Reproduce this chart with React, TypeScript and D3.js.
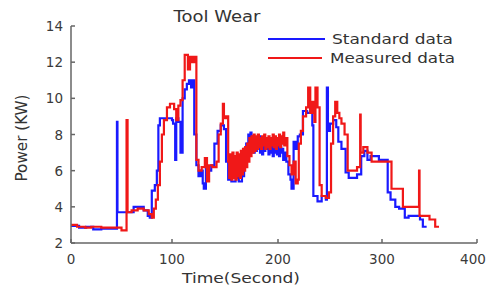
import * as d3 from "d3";

const W = 487;
const H = 289;

const standardTime = [
  0, 8, 15, 22, 30, 40, 45.5, 46, 57, 62, 72, 76, 78, 80, 83, 85, 86.5, 88, 92, 100,
  101, 103, 104, 106, 108, 110, 112, 114, 116, 118, 120, 121, 123, 125, 127, 129, 130,
  132, 134, 137, 140, 143, 146, 149, 151, 153, 156, 160, 163, 166, 168, 170, 172,
  173, 174, 175, 176, 177, 178, 179, 180, 181, 182, 183, 184, 185, 186, 187, 188, 189,
  190, 191, 192, 193, 194, 195, 196, 197, 198, 199, 200, 201, 202, 203, 204, 205, 206,
  208, 210, 212, 213, 215, 217, 219, 221, 224, 228, 231, 233, 234, 238, 242, 246, 247,
  248, 250, 253, 256, 258, 261, 265, 268, 272, 276, 280, 283, 286, 289, 297, 306, 309,
  314, 318, 324, 328, 332, 340, 343, 347,
];
const standardPower = [
  2.95, 2.85, 2.9, 2.75, 2.8, 2.8, 8.7, 3.7, 3.7, 4.0, 3.8, 3.5, 3.4, 4.9, 5.2, 6.0, 8.5, 8.9, 8.9, 8.8,
  8.6, 6.6, 8.9, 8.7, 7.0, 10.0, 10.5, 10.8, 11.0, 10.6, 11.0, 8.0, 6.3, 5.7, 6.0, 5.3, 5.0,
  6.1, 6.0, 6.3, 7.5, 8.2, 8.5, 8.3, 6.5, 5.5, 5.4, 5.6, 5.4, 5.7, 7.2, 7.5, 8.0,
  7.3, 8.1, 7.2, 7.9, 7.0, 7.8, 7.1, 7.7, 7.3, 7.9, 7.0, 7.6, 6.9, 7.5, 7.1, 7.8, 7.2,
  7.6, 6.9, 7.7, 7.0, 7.5, 6.8, 7.4, 7.0, 7.6, 6.9, 7.3, 6.8, 7.5, 7.0, 7.2, 6.6, 7.0,
  6.5, 5.8, 5.5, 5.0, 7.6, 7.2, 7.9, 8.0, 9.3, 9.2, 9.4, 8.5, 4.6, 4.3, 4.6, 4.4, 10.6,
  8.2, 8.6, 8.8, 8.4, 7.6, 7.2, 5.9, 5.6, 5.6, 5.8, 6.8, 7.1, 6.6, 6.8, 6.6, 4.8, 4.4,
  4.0, 3.9, 3.4, 3.5, 3.5, 3.3, 2.9, 2.9,
];

const measuredTime = [
  0, 6, 14, 20, 30, 40, 50, 55, 56, 60, 66, 72, 77, 80, 82, 84, 86, 88, 90, 92, 95, 98,
  102, 104, 106, 108, 110, 112, 115, 117, 119, 121, 123, 125, 128, 131, 133, 135, 138,
  142, 144, 146, 148, 149, 151, 153,
  154, 155, 156, 157, 158, 159, 160, 161, 162, 163, 164, 165, 166, 167, 168, 169, 170,
  171, 172, 173, 174, 175, 176, 177, 178, 179, 180, 181, 182, 183, 184, 185, 186, 187,
  188, 189, 190, 191, 192, 193, 194, 195, 196, 197, 198, 199, 200, 201, 202, 203, 204,
  205, 206, 207, 209, 211, 213, 215, 217, 219, 220, 222, 224, 227, 229, 231, 233, 235,
  236, 238, 240, 242, 246, 249, 251, 253, 255, 257, 259, 261, 264, 267, 272, 276, 279,
  279.5, 282, 286, 290, 310, 322, 339, 339.5, 350, 356, 360,
];
const measuredPower = [
  3.0, 2.9, 2.85, 2.9, 2.85, 2.85, 2.7, 8.8, 3.7, 3.8, 3.9, 3.8, 3.6, 3.4, 3.9, 4.4, 5.2,
  6.5, 8.0, 8.8, 9.5, 9.7, 9.4, 8.8, 9.6, 9.9, 11.0, 12.4, 11.6, 12.3, 12.0, 12.3, 6.6,
  6.0, 6.2, 6.7, 5.4, 6.3, 6.2, 6.5, 8.0, 8.6, 9.7, 8.9, 9.0, 6.5,
  5.6, 6.9, 5.5, 7.0, 5.6, 6.8, 5.5, 7.0, 5.7, 6.9, 5.6, 7.1, 5.8, 7.2, 6.0, 7.3, 6.2,
  7.5, 6.5, 7.8, 6.8, 7.9, 7.0, 8.0, 7.1, 7.9, 7.2, 8.0, 7.3, 7.8, 7.2, 7.9, 7.4, 8.0,
  7.2, 7.8, 7.3, 7.9, 7.2, 7.8, 7.4, 8.0, 7.3, 7.9, 7.2, 7.8, 7.4, 8.0, 7.3, 7.9, 7.5,
  8.1, 7.4, 7.8, 6.8, 6.3, 5.8, 6.5, 5.3, 5.5, 7.5, 8.2, 9.0, 9.5, 10.6, 9.2, 9.8, 8.7,
  10.6, 9.5, 5.2, 4.6, 4.5, 4.8, 7.5, 9.0, 9.8, 9.2, 8.9, 8.6, 8.0, 6.0, 6.0, 6.2, 9.1,
  7.0, 7.3, 7.0, 6.5, 5.0, 4.0, 6.0, 3.5, 3.3, 2.9, 2.9,
];

const xTicks = [0, 100, 200, 300, 400];
const yTicks = [2, 4, 6, 8, 10, 12, 14];
const seriesNames = ["Standard data", "Measured data"];
const seriesColors = ["#1a1aff", "#f01818"];

const FONT = "DejaVu Sans, Verdana, sans-serif";

export default function App() {
  // the source image is unevenly stretched, so the x range follows the printed ticks
  const x = d3.scaleLinear().domain(xTicks).range([71, 172, 278, 382, 477]);
  const y = d3.scaleLinear().domain([2, 14]).range([243, 26]);

  const line = d3
    .line<[number, number]>()
    .x((d) => x(d[0]))
    .y((d) => y(d[1]))
    .curve(d3.curveStepAfter);

  const standard = d3.zip(standardTime, standardPower) as [number, number][];
  const measured = d3.zip(measuredTime, measuredPower) as [number, number][];

  return (
    <svg width={W} height={H} style={{ position: "absolute", left: 0, top: 0, background: "#fff" }}>
      <path d={line(standard) ?? ""} fill="none" stroke={seriesColors[0]} strokeWidth={2.2} />
      <path d={line(measured) ?? ""} fill="none" stroke={seriesColors[1]} strokeWidth={2.2} />

      {/* axes */}
      <g stroke="#666" strokeWidth={1.5} fill="none">
        <line x1={x(0)} x2={x(0)} y1={y(2)} y2={y(14)} />
        <line x1={x(0)} x2={x(400)} y1={y(2)} y2={y(2)} />
        {yTicks.map((t) => (
          <line key={t} x1={x(0)} x2={x(0) + 4} y1={y(t)} y2={y(t)} />
        ))}
        {xTicks.map((t) => (
          <line key={t} x1={x(t)} x2={x(t)} y1={y(2)} y2={y(2) - 4} />
        ))}
      </g>
      <g fontFamily={FONT} fontSize={13.5} fill="#3a3a3a">
        {yTicks.map((t) => (
          <text key={t} x={63} y={y(t)} textAnchor="end" dominantBaseline="central">
            {t}
          </text>
        ))}
        {xTicks.map((t, i) => (
          <text key={t} x={i === xTicks.length - 1 ? x(t) - 4 : x(t)} y={264} textAnchor="middle">
            {t}
          </text>
        ))}
      </g>

      <text x={217} y={22} textAnchor="middle" fontFamily={FONT} fontSize={15} fill="#333"
        textLength={87} lengthAdjust="spacingAndGlyphs">Tool Wear</text>
      <text x={241} y={283} textAnchor="middle" fontFamily={FONT} fontSize={14.5} fill="#333"
        textLength={118} lengthAdjust="spacingAndGlyphs">Time(Second)</text>
      <text transform="translate(27,138) rotate(-90)" textAnchor="middle" fontFamily={FONT}
        fontSize={15} fill="#333" textLength={87} lengthAdjust="spacingAndGlyphs">Power (KW)</text>

      {/* legend */}
      <g fontFamily={FONT} fontSize={14.5} fill="#333">
        <line x1={268} x2={325} y1={39} y2={39} stroke={seriesColors[0]} strokeWidth={2} />
        <text x={332} y={44} textLength={121} lengthAdjust="spacingAndGlyphs">{seriesNames[0]}</text>
        <line x1={268} x2={322} y1={58} y2={58} stroke={seriesColors[1]} strokeWidth={2} />
        <text x={330} y={63} textLength={125} lengthAdjust="spacingAndGlyphs">{seriesNames[1]}</text>
      </g>
    </svg>
  );
}
